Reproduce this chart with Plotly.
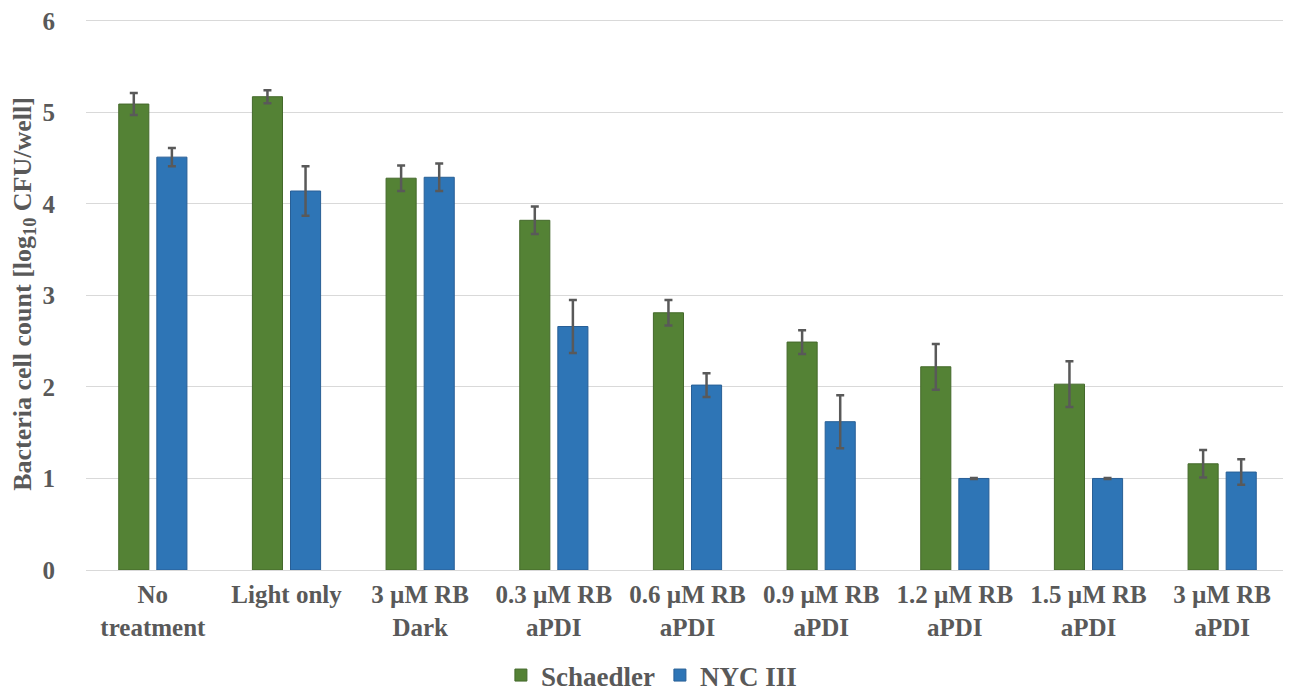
import plotly.graph_objects as go

categories = ["No<br>treatment", "Light only", "3 µM RB<br>Dark", "0.3 µM RB<br>aPDI",
              "0.6 µM RB<br>aPDI", "0.9 µM RB<br>aPDI", "1.2 µM RB<br>aPDI",
              "1.5 µM RB<br>aPDI", "3 µM RB<br>aPDI"]
schaedler = [5.09, 5.17, 4.28, 3.82, 2.81, 2.49, 2.22, 2.03, 1.16]
schaedler_err = [0.12, 0.07, 0.14, 0.15, 0.14, 0.13, 0.25, 0.25, 0.15]
nyc = [4.51, 4.14, 4.29, 2.66, 2.02, 1.62, 1.00, 1.00, 1.07]
nyc_err = [0.10, 0.27, 0.15, 0.29, 0.13, 0.29, 0.005, 0.005, 0.14]
y_ticks = [0, 1, 2, 3, 4, 5, 6]

FONT = "Liberation Serif"
GREY = "#595959"

fig = go.Figure()
fig.add_trace(go.Bar(
    name="Schaedler", x=categories, y=schaedler,
    marker=dict(color="#548235", line=dict(color="#44692b", width=1)),
    error_y=dict(type="data", array=schaedler_err, visible=True,
                 color=GREY, thickness=2.5, width=4),
))
fig.add_trace(go.Bar(
    name="NYC III", x=categories, y=nyc,
    marker=dict(color="#2e75b6", line=dict(color="#285f96", width=1)),
    error_y=dict(type="data", array=nyc_err, visible=True,
                 color=GREY, thickness=2.5, width=4),
))

fig.update_layout(
    width=1283, height=692,
    margin=dict(l=78, r=2, t=10, b=130, autoexpand=False),
    paper_bgcolor="white", plot_bgcolor="white",
    barmode="group", bargap=0.43, bargroupgap=0.21,
    font=dict(family=FONT, color=GREY),
    showlegend=True,
    legend=dict(orientation="h", x=0.47, xanchor="center",
                yref="container", y=0.0, yanchor="bottom",
                font=dict(family=FONT, size=27, color=GREY, weight="bold"),
                itemwidth=30, traceorder="normal"),
)
fig.update_xaxes(
    tickfont=dict(family=FONT, size=25, color=GREY, weight="bold"),
    showgrid=False, showline=False, ticks="", automargin=False,
    ticklabelstandoff=7,
)
fig.update_yaxes(
    range=[0, 6.03], tickvals=y_ticks, ticktext=[str(v) for v in y_ticks],
    showgrid=True, gridcolor="#d9d9d9", gridwidth=1,
    zeroline=True, zerolinecolor="#d9d9d9", zerolinewidth=1,
    tickfont=dict(family=FONT, size=25, color=GREY, weight="bold"),
    ticklabelstandoff=30, automargin=False, ticklabeloverflow="allow",
    title=dict(text="Bacteria cell count [log<sub>10</sub> CFU/well]",
               font=dict(family=FONT, size=26, color=GREY, weight="bold"),
               standoff=4),
)

fig.write_html("out.html")
